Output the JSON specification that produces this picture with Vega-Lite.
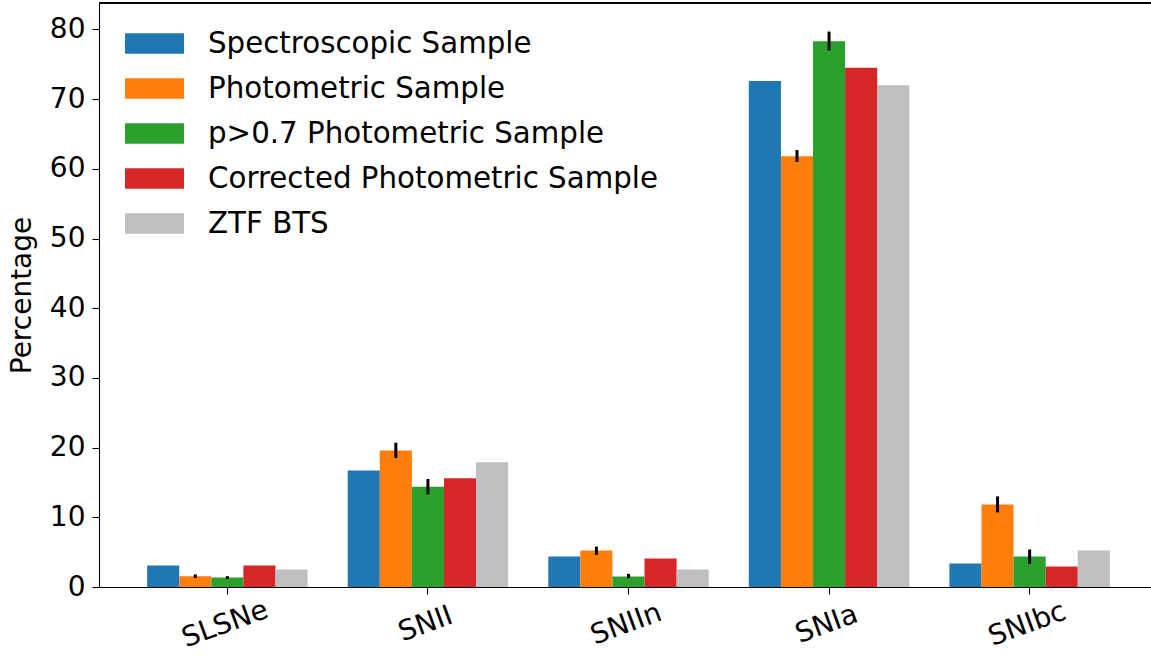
{
  "$schema": "https://vega.github.io/schema/vega-lite/v6.json",
  "autosize": {"type": "none"},
  "padding": {"left": 99, "top": 3, "right": 0, "bottom": 69},
  "width": 1052,
  "height": 584,
  "background": "white",
  "config": {
    "font": "DejaVu Sans",
    "view": {"stroke": null},
    "axis": {"grid": false, "domainColor": "black", "domainWidth": 1.1, "tickColor": "black", "tickWidth": 1.1, "tickSize": 7, "labelColor": "black", "labelFont": "DejaVu Sans", "labelFontSize": 28, "titleFont": "DejaVu Sans", "titleFontSize": 28, "titleFontWeight": "normal", "titleColor": "black"}
  },
  "data": {"values": [
    {"cat": "SLSNe", "sample": "Spectroscopic Sample", "value": 3.09},
    {"cat": "SLSNe", "sample": "Photometric Sample", "value": 1.55, "lo": 1.3, "hi": 1.8},
    {"cat": "SLSNe", "sample": "p>0.7 Photometric Sample", "value": 1.36, "lo": 1.16, "hi": 1.56},
    {"cat": "SLSNe", "sample": "Corrected Photometric Sample", "value": 3.09},
    {"cat": "SLSNe", "sample": "ZTF BTS", "value": 2.51},
    {"cat": "SNII", "sample": "Spectroscopic Sample", "value": 16.7},
    {"cat": "SNII", "sample": "Photometric Sample", "value": 19.6, "lo": 18.5, "hi": 20.7},
    {"cat": "SNII", "sample": "p>0.7 Photometric Sample", "value": 14.4, "lo": 13.3, "hi": 15.5},
    {"cat": "SNII", "sample": "Corrected Photometric Sample", "value": 15.6},
    {"cat": "SNII", "sample": "ZTF BTS", "value": 17.9},
    {"cat": "SNIIn", "sample": "Spectroscopic Sample", "value": 4.38},
    {"cat": "SNIIn", "sample": "Photometric Sample", "value": 5.24, "lo": 4.6, "hi": 5.8},
    {"cat": "SNIIn", "sample": "p>0.7 Photometric Sample", "value": 1.51, "lo": 1.26, "hi": 1.89},
    {"cat": "SNIIn", "sample": "Corrected Photometric Sample", "value": 4.09},
    {"cat": "SNIIn", "sample": "ZTF BTS", "value": 2.51},
    {"cat": "SNIa", "sample": "Spectroscopic Sample", "value": 72.6},
    {"cat": "SNIa", "sample": "Photometric Sample", "value": 61.8, "lo": 61.0, "hi": 62.7},
    {"cat": "SNIa", "sample": "p>0.7 Photometric Sample", "value": 78.3, "lo": 77.0, "hi": 79.7},
    {"cat": "SNIa", "sample": "Corrected Photometric Sample", "value": 74.5},
    {"cat": "SNIa", "sample": "ZTF BTS", "value": 72.0},
    {"cat": "SNIbc", "sample": "Spectroscopic Sample", "value": 3.37},
    {"cat": "SNIbc", "sample": "Photometric Sample", "value": 11.84, "lo": 10.7, "hi": 13.0},
    {"cat": "SNIbc", "sample": "p>0.7 Photometric Sample", "value": 4.38, "lo": 3.34, "hi": 5.38},
    {"cat": "SNIbc", "sample": "Corrected Photometric Sample", "value": 2.94},
    {"cat": "SNIbc", "sample": "ZTF BTS", "value": 5.24}
  ]},
  "layer": [
    {
      "mark": {"type": "bar"},
      "encoding": {
        "x": {
          "field": "cat", "type": "nominal", "sort": ["SLSNe", "SNII", "SNIIn", "SNIa", "SNIbc"],
          "scale": {"range": [0, 1059], "paddingInner": 0.2, "paddingOuter": 0.24},
          "axis": {"title": null, "labelAngle": -20, "labelAlign": "center", "labelBaseline": "top", "labelPadding": 17, "labelOffset": -7}
        },
        "xOffset": {
          "field": "sample", "type": "nominal",
          "sort": ["Spectroscopic Sample", "Photometric Sample", "p>0.7 Photometric Sample", "Corrected Photometric Sample", "ZTF BTS"],
          "scale": {"paddingInner": 0, "paddingOuter": 0}
        },
        "y": {
          "field": "value", "type": "quantitative",
          "scale": {"domain": [0, 83.8], "nice": false, "zero": true},
          "axis": {"title": "Percentage", "values": [0, 10, 20, 30, 40, 50, 60, 70, 80], "labelPadding": 7, "titlePadding": 13}
        },
        "color": {
          "field": "sample", "type": "nominal",
          "scale": {
            "domain": ["Spectroscopic Sample", "Photometric Sample", "p>0.7 Photometric Sample", "Corrected Photometric Sample", "ZTF BTS"],
            "range": ["#1f77b4", "#ff7f0e", "#2ca02c", "#d62728", "#bfbfbf"]
          },
          "legend": {
            "title": null, "orient": "none", "legendX": 26, "legendY": 11, "padding": 0,
            "labelFontSize": 29.3, "labelFont": "DejaVu Sans", "labelColor": "black", "labelOffset": 24,
            "symbolType": "M-1,-0.35H1V0.35H-1Z", "symbolSize": 3481, "symbolStrokeWidth": 0, "symbolOpacity": 1,
            "rowPadding": -12, "labelLimit": 0
          }
        }
      }
    },
    {
      "transform": [{"filter": "isValid(datum.lo)"}],
      "mark": {"type": "rule", "color": "black", "strokeWidth": 3},
      "encoding": {
        "x": {"field": "cat", "type": "nominal", "sort": ["SLSNe", "SNII", "SNIIn", "SNIa", "SNIbc"]},
        "xOffset": {
          "field": "sample", "type": "nominal",
          "sort": ["Spectroscopic Sample", "Photometric Sample", "p>0.7 Photometric Sample", "Corrected Photometric Sample", "ZTF BTS"]
        },
        "y": {"field": "lo", "type": "quantitative"},
        "y2": {"field": "hi"}
      }
    },
    {
      "mark": {"type": "rule", "color": "black", "strokeWidth": 1.1},
      "encoding": {
        "y": {"datum": 83.8, "type": "quantitative"}
      }
    }
  ]
}
